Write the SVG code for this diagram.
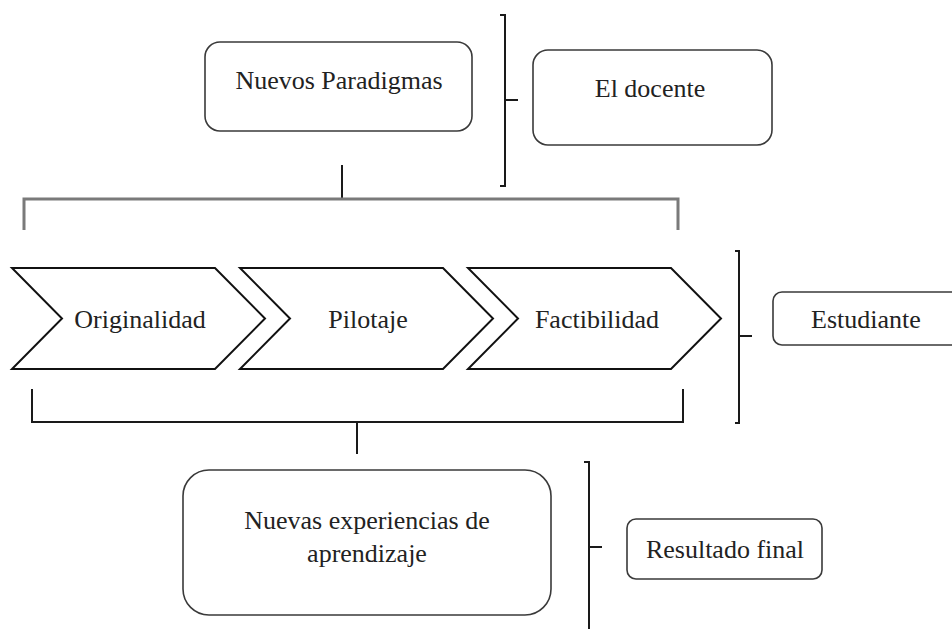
<svg xmlns="http://www.w3.org/2000/svg" width="952" height="629" viewBox="0 0 952 629">
<style>
.box{fill:#fff;stroke:#3a3a3a;stroke-width:1.6}
.chev{fill:#fff;stroke:#111;stroke-width:2}
.ln{fill:none;stroke:#1a1a1a;stroke-width:2}
.gl{fill:none;stroke:#7a7a7a;stroke-width:3}
.t{font-family:'Liberation Serif','DejaVu Serif',serif;font-size:26px;fill:#222;text-anchor:middle}
</style>
<rect width="952" height="629" fill="#fff"/>
<g id="connectors">
<path class="ln" d="M500,15 H505 V186 H500 M505,100 H518"/>
<path class="ln" d="M342,165 V198"/>
<path class="gl" d="M24,230 V199 H678 V230"/>
<path class="ln" d="M735,251 H739 V423 H735 M739,336 H752"/>
<path class="ln" d="M32,389 V422 H683 V389"/>
<path class="ln" d="M357,422 V454"/>
<path class="ln" d="M584,462 H589 V629 M589,547 H602"/>
</g>
<g id="nuevos-paradigmas">
<rect class="box" x="205" y="42" width="267" height="89" rx="15"/>
<text class="t" font-family="Liberation Serif, serif" x="339" y="89">Nuevos Paradigmas</text>
</g>
<g id="el-docente">
<rect class="box" x="533" y="50" width="239" height="95" rx="15"/>
<text class="t" font-family="Liberation Serif, serif" x="650" y="97">El docente</text>
</g>
<g id="originalidad">
<polygon class="chev" points="12,268 215,268 265,318.5 215,369 12,369 62,318.5"/>
<text class="t" font-family="Liberation Serif, serif" x="140" y="328">Originalidad</text>
</g>
<g id="pilotaje">
<polygon class="chev" points="240,268 443,268 493,318.5 443,369 240,369 290,318.5"/>
<text class="t" font-family="Liberation Serif, serif" x="368" y="328">Pilotaje</text>
</g>
<g id="factibilidad">
<polygon class="chev" points="468,268 671,268 721,318.5 671,369 468,369 518,318.5"/>
<text class="t" font-family="Liberation Serif, serif" x="597" y="328">Factibilidad</text>
</g>
<g id="estudiante">
<rect class="box" x="773" y="292" width="200" height="53" rx="9"/>
<text class="t" font-family="Liberation Serif, serif" x="866" y="328">Estudiante</text>
</g>
<g id="nuevas-experiencias">
<rect class="box" x="183" y="470" width="368" height="145" rx="26"/>
<text class="t" font-family="Liberation Serif, serif" x="367" y="529">Nuevas experiencias de</text>
<text class="t" font-family="Liberation Serif, serif" x="367" y="562">aprendizaje</text>
</g>
<g id="resultado-final">
<rect class="box" x="627" y="519" width="195" height="60" rx="9"/>
<text class="t" font-family="Liberation Serif, serif" x="725" y="558">Resultado final</text>
</g>
</svg>
